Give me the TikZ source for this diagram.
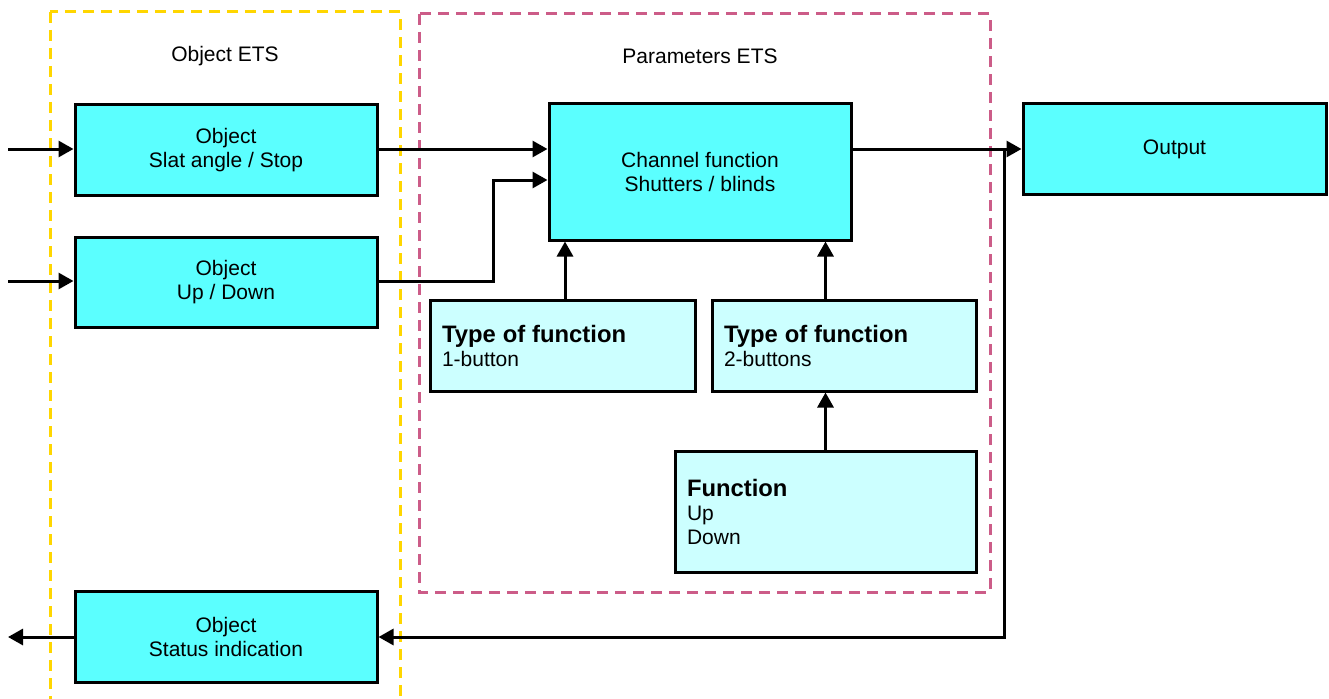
\documentclass[tikz,border=0pt]{standalone}
\usepackage{fontspec}
\setmainfont{Liberation Sans}
\usetikzlibrary{arrows.meta}
\definecolor{boxcyan}{RGB}{91,255,255}
\definecolor{boxlight}{RGB}{204,255,255}
\definecolor{etsyellow}{RGB}{255,214,0}
\definecolor{etspink}{RGB}{204,92,136}
\begin{document}
\begin{tikzpicture}[x=1pt,y=-1pt,
  box/.style={draw=black,line width=3pt,fill=boxcyan,rectangle,inner sep=0pt,align=center,
    font=\fontsize{21}{23.5}\selectfont},
  pbox/.style={draw=black,line width=3pt,fill=boxlight,rectangle,inner xsep=12pt,inner ysep=0pt,align=left,
    font=\fontsize{21}{24}\selectfont},
  arr/.style={line width=3pt,-{Triangle[length=15pt,width=16pt]}},
  frameY/.style={draw=etsyellow,line width=3pt,dash pattern=on 11pt off 7pt},
  frameP/.style={draw=etspink,line width=3pt,dash pattern=on 11pt off 7pt},
  lbl/.style={font=\fontsize{21}{23.5}\selectfont,inner sep=0pt}]
\useasboundingbox (0,0) rectangle (1329,698);
\draw[frameY] (50,12) rectangle (400,710);
\draw[frameP] (419,14) rectangle (990,592);
\node[lbl] (lblobj) at (225,56) {Object ETS};
\node[lbl] (lblpar) at (700,56) {Parameters ETS};

\node[box,minimum width=302pt,minimum height=90pt] (slat) at (226,150) {Object\\Slat angle / Stop};
\node[box,minimum width=302pt,minimum height=90pt] (updown) at (226,282) {Object\\Up / Down};
\node[box,minimum width=302pt,minimum height=91pt] (status) at (226,637) {Object\\Status indication};
\node[box,minimum width=302pt,minimum height=136pt] (channel) at (700,172) {Channel function\\Shutters / blinds};
\node[box,minimum width=303pt,minimum height=90pt] (output) at (1174.5,149) {Output};
\node[pbox,text width=241pt,minimum height=91pt] (type1) at (562.5,345.5)
  {{\fontsize{23.8}{24}\selectfont\bfseries Type of function}\\1-button};
\node[pbox,text width=240pt,minimum height=91pt] (type2) at (844,345.5)
  {{\fontsize{23.8}{24}\selectfont\bfseries Type of function}\\2-buttons};
\node[pbox,text width=277pt,minimum height=121pt] (func) at (825.5,511.5)
  {{\fontsize{23.8}{24}\selectfont\bfseries Function}\\Up\\Down};

\coordinate (in1) at (8,149);
\coordinate (in2) at (8,281);
\coordinate (out3) at (8,637);
\coordinate (br) at (1004,149);

\draw[arr] (in1) -- (in1 -| slat.west);
\draw[arr] (in2) -- (in2 -| updown.west);
\draw[arr] (status.west) -- (out3);
\draw[arr] (in1 -| slat.east) -- (in1 -| channel.west);
\draw[arr] (in2 -| updown.east) -- ++(115,0) |- ([yshift=-8pt]channel.west);
\draw[arr] (channel.east |- output.west) -- (output.west);
\draw[arr] (br) |- (status.east);
\draw[arr] ([xshift=2.5pt]type1.north) -- ([xshift=2.5pt]type1.north |- channel.south);
\draw[arr] (func.north) -- (func.north |- type2.south);
\draw[arr] (func.north |- type2.north) -- (func.north |- channel.south);
\end{tikzpicture}
\end{document}
